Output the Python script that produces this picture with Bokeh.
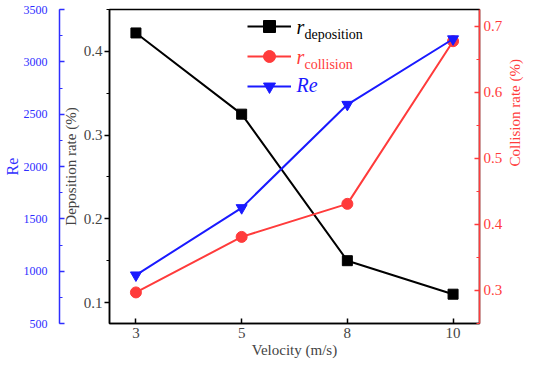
import math
from bokeh.plotting import figure
from bokeh.models import (Range1d, LinearAxis, SingleIntervalTicker, FixedTicker,
                          Legend, LegendItem, Label)
from bokeh.embed import file_html
from bokeh.resources import INLINE

velocity = ["3", "5", "8", "10"]
deposition = [0.422, 0.325, 0.150, 0.110]
collision = [0.297, 0.381, 0.431, 0.677]
reynolds = [962, 1605, 2592, 3218]

FONT = "Liberation Serif"
RED = "#FF3B3B"
BLUE = "#1A1AFF"
AXBLUE = "#2E2EFF"

x = list(range(len(velocity)))

p = figure(width=534, height=360, output_backend="svg", toolbar_location=None,
           x_range=Range1d(-0.25, len(velocity) - 0.75),
           y_range=Range1d(0.075, 0.45),
           min_border_left=0, min_border_right=0, min_border_top=9, min_border_bottom=0)
p.extra_y_ranges = {"re": Range1d(500, 3500), "col": Range1d(0.25, 0.725)}
p.grid.visible = False
p.outline_line_color = "black"
p.outline_line_width = 1.5

# x axis
xa = p.xaxis[0]
xa.ticker = FixedTicker(ticks=x)
xa.major_label_overrides = {i: v for i, v in enumerate(velocity)}
xa.axis_label = "Velocity (m/s)"
xa.major_tick_in = 5
xa.major_tick_out = 0
xa.minor_tick_in = 0
xa.minor_tick_out = 0
xa.major_label_standoff = 4
xa.axis_label_standoff = 1

# left deposition axis
ya = p.yaxis[0]
ya.ticker = SingleIntervalTicker(interval=0.1, num_minor_ticks=2)
ya.axis_label = "Deposition rate (%)"
ya.major_tick_in = 0
ya.major_tick_out = 5
ya.minor_tick_in = 0
ya.minor_tick_out = 3
ya.major_label_standoff = 2
ya.axis_label_standoff = 2

# Re axis (outer left)
ra = LinearAxis(y_range_name="re", axis_label="Re",
                ticker=SingleIntervalTicker(interval=500, num_minor_ticks=2))
ra.major_tick_in = 5
ra.major_tick_out = 0
ra.minor_tick_in = 3
ra.minor_tick_out = 0
ra.major_label_standoff = 12
ra.axis_label_standoff = 0
ra.axis_line_color = AXBLUE
ra.major_tick_line_color = AXBLUE
ra.minor_tick_line_color = AXBLUE
ra.major_label_text_color = AXBLUE
ra.axis_label_text_color = AXBLUE
p.add_layout(ra, "left")

# collision axis (right), title reading bottom-to-top
ca = LinearAxis(y_range_name="col", axis_label="Collision rate (%)",
                ticker=SingleIntervalTicker(interval=0.1, num_minor_ticks=2))
ca.major_tick_in = 5
ca.major_tick_out = 0
ca.minor_tick_in = 3
ca.minor_tick_out = 0
ca.major_label_standoff = 4
ca.axis_label_standoff = 2
ca.axis_line_color = RED
ca.major_tick_line_color = RED
ca.minor_tick_line_color = RED
ca.major_label_text_color = RED
ca.axis_label_text_color = RED
if "axis_label_orientation" in ca.properties():
    ca.axis_label_orientation = math.pi / 2
    ca.axis_label_standoff = 10
p.add_layout(ca, "right")

for a in [xa, ya, ra, ca]:
    a.major_label_text_font = FONT
    a.axis_label_text_font = FONT
    a.axis_label_text_font_style = "normal"
    a.major_label_text_font_size = "15px"
    a.axis_label_text_font_size = "15px"
    a.axis_line_width = 1.5
    a.major_tick_line_width = 1.5
ra.major_label_text_font_size = "12px"
ra.axis_label_text_font_size = "16px"

# series
l1 = p.line(x, deposition, line_color="black", line_width=2)
m1 = p.scatter(x, deposition, marker="square", size=10, color="black")
l2 = p.line(x, collision, line_color=RED, line_width=2, y_range_name="col")
m2 = p.scatter(x, collision, marker="circle", size=11, color=RED, y_range_name="col")
l3 = p.line(x, reynolds, line_color=BLUE, line_width=2, y_range_name="re")
m3 = p.scatter(x, reynolds, marker="inverted_triangle", size=11, color=BLUE, y_range_name="re")

legend = Legend(items=[LegendItem(label=" ", renderers=[l1, m1]),
                       LegendItem(label=" ", renderers=[l2, m2]),
                       LegendItem(label=" ", renderers=[l3, m3])],
                location=(138, 222), glyph_width=44, glyph_height=30,
                label_height=30, spacing=0, padding=0, margin=0,
                border_line_color=None, background_fill_alpha=0,
                label_text_font_size="4px", label_width=1)
p.add_layout(legend, "center")

leg_text = [("r", "deposition", "black", 297),
            ("r", "collision", RED, 267),
            ("Re", "", BLUE, 239)]
for main, sub, col, yy in leg_text:
    p.add_layout(Label(x=187, y=yy, x_units="screen", y_units="screen", text=main,
                       text_font=FONT, text_font_style="italic", text_font_size="20px",
                       text_color=col, text_baseline="middle"))
    if sub:
        p.add_layout(Label(x=195, y=yy - 8, x_units="screen", y_units="screen", text=sub,
                           text_font=FONT, text_font_size="14px",
                           text_color=col, text_baseline="middle"))

open("out.html", "w").write(file_html(p, INLINE))
